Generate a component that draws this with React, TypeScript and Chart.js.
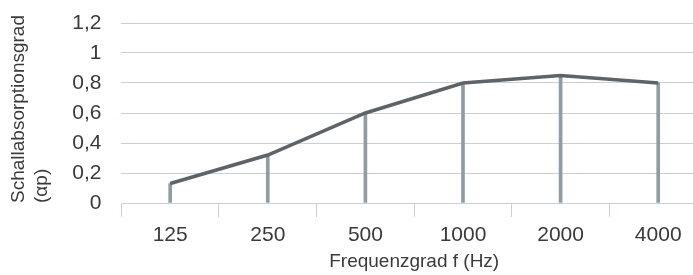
import React, { useEffect, useRef } from "react";
import { Chart, registerables } from "chart.js";

Chart.register(...registerables);

const categories = ["125", "250", "500", "1000", "2000", "4000"];
const absorption = [0.13, 0.32, 0.6, 0.8, 0.85, 0.8];
const yTickValues = [0, 0.2, 0.4, 0.6, 0.8, 1, 1.2];
const yTitle = ["Schallabsorptionsgrad", "(αp)"];
const xTitle = "Frequenzgrad f (Hz)";

const FONT = "'Liberation Sans', Arial, Helvetica, sans-serif";
const TEXT = "#3a3a3a";
const GRID = "#c8d1d4";

export default function App() {
  const ref = useRef<HTMLCanvasElement | null>(null);

  useEffect(() => {
    if (!ref.current) return;
    const chart = new Chart(ref.current, {
      type: "line",
      data: {
        labels: categories,
        datasets: [
          {
            type: "line",
            data: absorption,
            borderColor: "#5d6367",
            borderWidth: 3.5,
            pointRadius: 0,
            tension: 0,
            fill: false,
            order: 0,
          } as any,
          {
            type: "bar",
            data: absorption,
            backgroundColor: "#8f9da2",
            barThickness: 3,
            order: 1,
          } as any,
        ],
      },
      options: {
        responsive: false,
        animation: false,
        layout: { padding: { left: 7.6, right: 13, top: 23, bottom: 0 } },
        plugins: { legend: { display: false }, tooltip: { enabled: false } },
        scales: {
          x: {
            type: "category",
            offset: true,
            grid: {
              display: true,
              drawOnChartArea: false,
              drawTicks: true,
              tickLength: 14,
              offset: true,
              color: GRID,
              lineWidth: 1,
            },
            border: { display: true, color: GRID, width: 1 },
            ticks: {
              color: TEXT,
              padding: 8,
              font: { family: FONT, size: 21, lineHeight: 1.0 },
              maxRotation: 0,
            },
            title: {
              display: true,
              text: xTitle,
              color: TEXT,
              font: { family: FONT, size: 19, lineHeight: 1.0 },
              padding: { top: -2, bottom: 0 },
            },
          },
          y: {
            min: 0,
            max: 1.2,
            afterBuildTicks: (scale: any) => {
              scale.ticks = yTickValues.map((v) => ({ value: v }));
            },
            grid: {
              display: true,
              drawTicks: true,
              tickLength: 18,
              tickColor: "rgba(0,0,0,0)",
              color: GRID,
              lineWidth: 1,
            },
            border: { display: false },
            ticks: {
              color: TEXT,
              padding: 2,
              font: { family: FONT, size: 21, lineHeight: 1.0 },
              callback: (v: any) =>
                String(Math.round(Number(v) * 10) / 10).replace(".", ","),
            },
            title: {
              display: true,
              text: yTitle,
              align: "start",
              color: TEXT,
              font: { family: FONT, size: 19, lineHeight: 1.2 },
              padding: { top: 0, bottom: 17 },
            },
          },
        },
      },
    });
    return () => chart.destroy();
  }, []);

  return (
    <div
      style={{
        position: "fixed",
        left: 0,
        top: 0,
        width: 693,
        height: 275,
        overflow: "hidden",
        background: "#fff",
      }}
    >
      <canvas ref={ref} width={720} height={271} style={{ display: "block" }} />
    </div>
  );
}
